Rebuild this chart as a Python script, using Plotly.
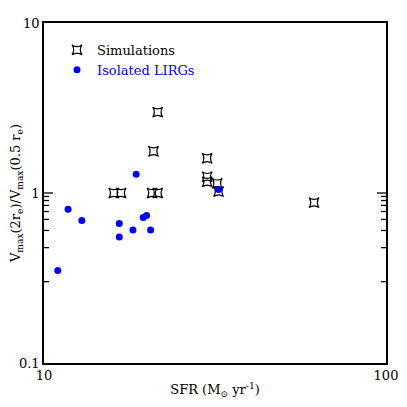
import math
import plotly.graph_objects as go

# Simulations (SFR, ratio)
sim_sfr = [16.0, 16.8, 20.7, 21.5, 21.5, 20.9, 30.0, 30.0, 30.0, 32.1, 32.4, 61.6]
sim_ratio = [1.0, 1.0, 1.0, 1.0, 2.99, 1.76, 1.60, 1.245, 1.164, 1.14, 1.02, 0.878]

# Isolated LIRGs
lirg_sfr = [10.97, 11.76, 12.9, 16.6, 16.6, 18.2, 18.6, 19.5, 19.95, 20.5, 32.4]
lirg_ratio = [0.35, 0.803, 0.689, 0.661, 0.551, 0.605, 1.29, 0.717, 0.737, 0.605, 1.05]

major_x = [10, 100]
major_y = [0.1, 1, 10]
minor_x = [20, 30, 40, 50, 60, 70, 80, 90]
minor_y = [0.2, 0.3, 0.4, 0.5, 0.6, 0.7, 0.8, 0.9, 2, 3, 4, 5, 6, 7, 8, 9]

font = "DejaVu Serif"

W, H = 391, 391
margin = dict(l=36, r=13, t=15, b=36)
plot_w = W - margin["l"] - margin["r"]
plot_h = H - margin["t"] - margin["b"]

fig = go.Figure()

fig.add_trace(go.Scatter(
    x=sim_sfr, y=sim_ratio, mode="markers", name="Simulations",
    marker=dict(symbol="star-square-open", size=9, color="black",
                line=dict(width=1.2, color="black"))
))
fig.add_trace(go.Scatter(
    x=lirg_sfr, y=lirg_ratio, mode="markers",
    name="<span style='color:#0000ff'>Isolated LIRGs</span>",
    marker=dict(symbol="circle", size=7, color="#0000ff")
))

# inward ticks on all four sides; shapes on log axes take log10 positions
tick_line = dict(color="black", width=1.3)
for vals, length in [(major_x, 9), (minor_x, 5)]:
    f = length / plot_h
    for v in vals:
        lv = math.log10(v)
        fig.add_shape(type="line", xref="x", yref="paper",
                      x0=lv, x1=lv, y0=0, y1=f, line=tick_line)
        fig.add_shape(type="line", xref="x", yref="paper",
                      x0=lv, x1=lv, y0=1, y1=1 - f, line=tick_line)
for vals, length in [(major_y, 9), (minor_y, 5)]:
    f = length / plot_w
    for v in vals:
        lv = math.log10(v)
        fig.add_shape(type="line", yref="y", xref="paper",
                      y0=lv, y1=lv, x0=0, x1=f, line=tick_line)
        fig.add_shape(type="line", yref="y", xref="paper",
                      y0=lv, y1=lv, x0=1, x1=1 - f, line=tick_line)

fig.update_layout(
    template="none",
    xaxis=dict(
        type="log", range=[1, 2], tickvals=major_x,
        ticktext=[str(v) for v in major_x], ticks="",
        showline=True, linecolor="#000000", linewidth=1.5, mirror=True,
        showgrid=False, zeroline=False, automargin=False,
        tickfont=dict(family=font, size=13, color="black"),
        title=dict(text="SFR (M<sub>⊙</sub> yr<sup>-1</sup>)",
                   font=dict(family=font, size=13, color="black"), standoff=4),
    ),
    yaxis=dict(
        type="log", range=[-1, 1], tickvals=major_y,
        ticktext=[str(v) for v in major_y], ticks="",
        showline=True, linecolor="#000000", linewidth=1.5, mirror=True,
        showgrid=False, zeroline=False, automargin=False,
        tickfont=dict(family=font, size=13, color="black"),
        title=dict(text="V<sub>max</sub>(2r<sub>e</sub>)/V<sub>max</sub>(0.5 r<sub>e</sub>)",
                   font=dict(family=font, size=13, color="black"), standoff=2),
    ),
)

# page body has an 8px margin, so the figure is sized to fit inside the window
fig.update_layout(
    width=W, height=H,
    margin=margin,
    plot_bgcolor="white", paper_bgcolor="white",
    legend=dict(x=0.038, y=0.965, xanchor="left", yanchor="top",
                font=dict(family=font, size=13, color="black"),
                bgcolor="rgba(0,0,0,0)", itemwidth=30, tracegroupgap=0),
)

fig.write_html("out.html")
